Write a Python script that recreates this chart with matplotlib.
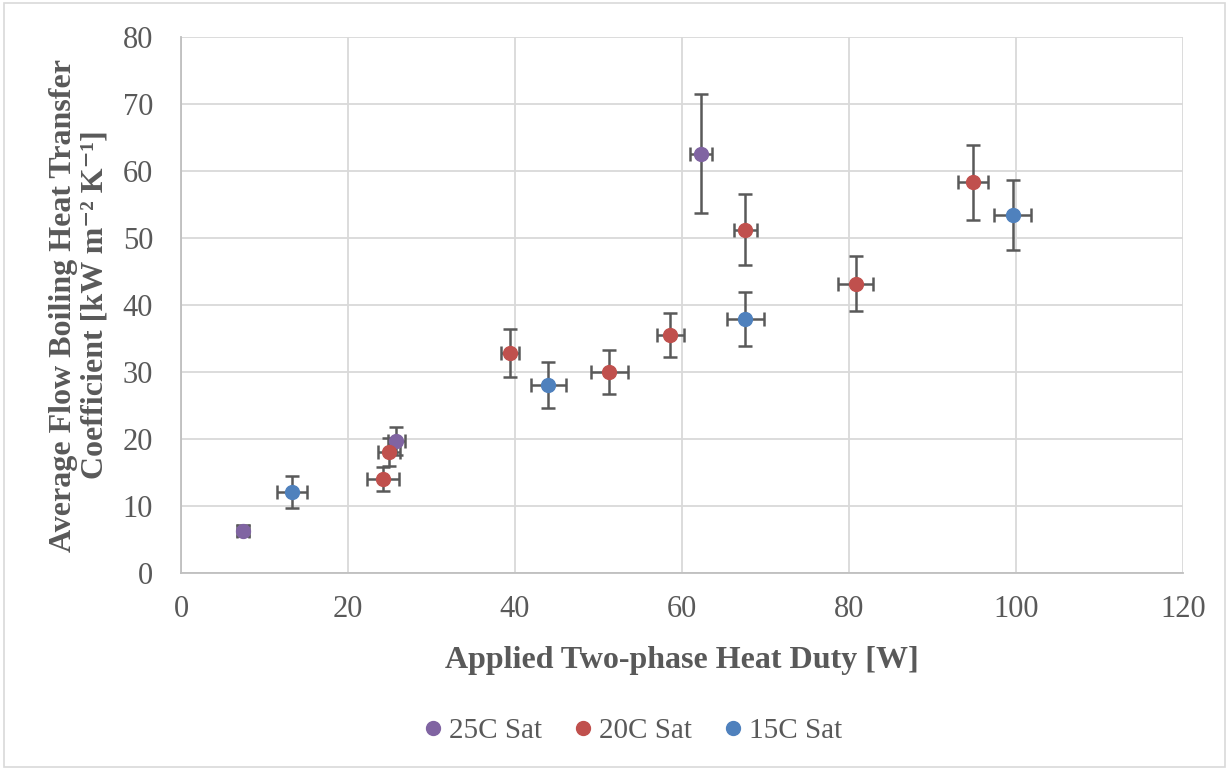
import matplotlib
matplotlib.use("Agg")
import matplotlib.pyplot as plt
from matplotlib.patches import Rectangle

plt.rcParams['font.family'] = ['Liberation Serif', 'DejaVu Serif']

# Saturation temperature series: heat duty [W], HTC [kW m^-2 K^-1], uncertainties
duty_25 = [7.4, 25.8, 62.3]
htc_25 = [6.3, 19.7, 62.6]
duty_err_25 = [0.7, 1.0, 1.3]
htc_err_25 = [0.8, 2.1, 8.9]

duty_20 = [24.2, 24.9, 39.4, 51.3, 58.6, 67.6, 80.8, 94.9]
htc_20 = [14.0, 18.0, 32.8, 30.0, 35.5, 51.2, 43.2, 58.3]
duty_err_20 = [1.9, 1.3, 1.1, 2.2, 1.6, 1.4, 2.1, 1.8]
htc_err_20 = [1.75, 2.1, 3.6, 3.3, 3.3, 5.3, 4.05, 5.6]

duty_15 = [13.3, 44.0, 67.6, 99.6]
htc_15 = [12.1, 28.1, 37.9, 53.4]
duty_err_15 = [1.8, 2.1, 2.25, 2.25]
htc_err_15 = [2.4, 3.4, 4.0, 5.2]

series_names = ["25C Sat", "20C Sat", "15C Sat"]
series_colors = ["#8064A2", "#C0504D", "#4F81BD"]

x_ticks = [0, 20, 40, 60, 80, 100, 120]
y_ticks = [0, 10, 20, 30, 40, 50, 60, 70, 80]

text_gray = "#595959"

fig = plt.figure(figsize=(12.29, 7.70), dpi=100)
fig.patches.append(Rectangle((0.003, 0.004), 0.994, 0.992, transform=fig.transFigure,
                             fill=False, edgecolor="#d9d9d9", linewidth=1.2))
ax = fig.add_axes([181 / 1229, 1 - 573 / 770, (1183 - 181) / 1229, (573 - 37) / 770])

data = [
    (duty_25, htc_25, duty_err_25, htc_err_25),
    (duty_20, htc_20, duty_err_20, htc_err_20),
    (duty_15, htc_15, duty_err_15, htc_err_15),
]
for (x, y, xe, ye), name, color in zip(data, series_names, series_colors):
    ax.errorbar(x, y, xerr=xe, yerr=ye, fmt='o', color=color, markersize=10,
                markeredgecolor=color, ecolor="#595959", elinewidth=1.8,
                capsize=5, capthick=1.8, label=name, zorder=3)

ax.set_xlim(0, 120)
ax.set_ylim(0, 80)
ax.set_xticks(x_ticks)
ax.set_yticks(y_ticks)
ax.grid(True, color="#d9d9d9", linewidth=1.3, zorder=0)
ax.set_axisbelow(True)
for side in ["top", "right"]:
    ax.spines[side].set_visible(False)
for side in ["left", "bottom"]:
    ax.spines[side].set_color("#bfbfbf")
    ax.spines[side].set_linewidth(1.3)
ax.tick_params(axis='both', length=0, labelsize=22, labelcolor=text_gray)
ax.tick_params(axis='x', pad=16)
ax.tick_params(axis='y', pad=20)

ax.set_xlabel("Applied Two-phase Heat Duty [W]", fontsize=23, fontweight='bold',
              color=text_gray, labelpad=16)
ax.set_ylabel("Average Flow Boiling Heat Transfer\nCoefficient [kW m\u207b\u00b2 K\u207b\u00b9]",
              fontsize=23, fontweight='bold', color=text_gray,
              linespacing=1.15)
ax.yaxis.set_label_coords(-0.071, 0.5)

handles, labels = ax.get_legend_handles_labels()
handles = [h[0] for h in handles]
fig.legend(handles, labels, loc='center', bbox_to_anchor=(0.513, 1 - 731 / 770),
           ncol=3, frameon=False, fontsize=21, labelcolor=text_gray,
           handletextpad=0.05, columnspacing=0.9, markerscale=1.0, handlelength=1.0)

fig.savefig("out.png", dpi=100)
